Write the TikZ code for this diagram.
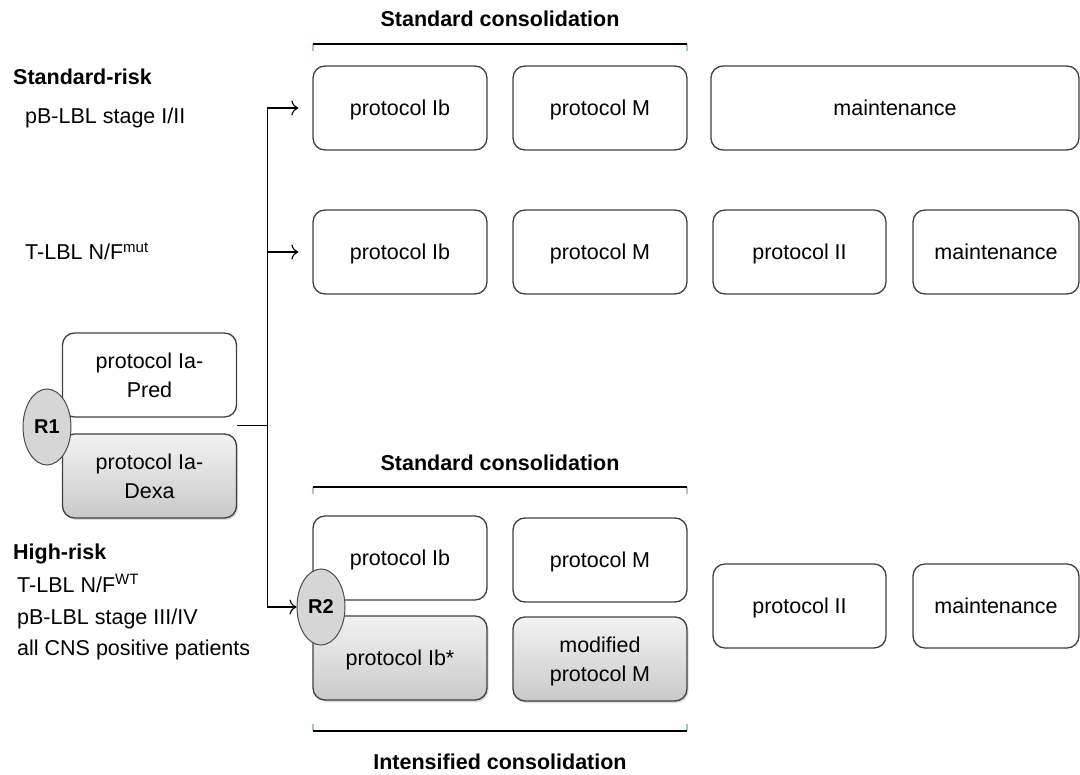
\documentclass[tikz,border=0pt]{standalone}
\usepackage{fontspec}
\setmainfont{Liberation Sans}
\usetikzlibrary{arrows.meta,shapes.geometric,calc,shadows}
\begin{document}
\begin{tikzpicture}[x=1pt,y=-1pt,
  txt/.style={font=\fontsize{21.5}{29}\selectfont, inner sep=0pt},
  btxt/.style={font=\fontsize{21.5}{29}\selectfont\bfseries, inner sep=0pt},
  box/.style={draw=black!75, line width=1.3pt, rounded corners=12pt, fill=white,
    minimum width=174pt, minimum height=84pt, align=center, inner sep=2pt,
    text depth=0pt, font=\fontsize{21.5}{29}\selectfont},
  gbox/.style={box, top color=gray!10, bottom color=gray!42,
    drop shadow={opacity=0.3, shadow xshift=1.5pt, shadow yshift=-2pt}},
  rnode/.style={ellipse, draw=black!70, line width=1pt, fill=gray!32,
    minimum width=48pt, minimum height=76pt, inner sep=0pt,
    font=\fontsize{20}{24}\selectfont\bfseries},
  conn/.style={line width=1.1pt, black},
  arr/.style={conn, -{To[length=7pt,width=15pt,line width=1.1pt]}},
  bracket/.style={line width=2.6pt, black},
  tick/.style={line width=1.5pt, cyan!40!gray!60}
]
\useasboundingbox (0,0) rectangle (1080,775);

% titles and brackets
\node[btxt] (t1) at (500,19) {Standard consolidation};
\draw[tick] (313,44) -- (313,51) (687,44) -- (687,51);
\draw[bracket] (313,44) -- (687,44);

\node[btxt] (t2) at (500,463) {Standard consolidation};
\draw[tick] (313,487) -- (313,494) (687,487) -- (687,494);
\draw[bracket] (313,487) -- (687,487);

\draw[tick] (313,724) -- (313,731) (687,724) -- (687,731);
\draw[bracket] (313,731) -- (687,731);
\node[btxt] (t3) at (500,762) {Intensified consolidation};

% left labels
\node[btxt, anchor=base west] (sr) at (13,85) {Standard-risk};
\node[txt, anchor=base west] (sr1) at (25,124) {pB-LBL stage I/II};
\node[txt, anchor=base west] (sr2) at (25,260) {T-LBL N/F\textsuperscript{\fontsize{15}{15}\selectfont mut}};
\node[btxt, anchor=base west] (hr) at (13,560) {High-risk};
\node[txt, anchor=base west] (hr1) at (17,592) {T-LBL N/F\textsuperscript{\fontsize{15}{15}\selectfont WT}};
\node[txt, anchor=base west] (hr2) at (17,624) {pB-LBL stage III/IV};
\node[txt, anchor=base west] (hr3) at (17,655) {all CNS positive patients};

% row 1
\node[box] (a1) at (400,108) {protocol Ib};
\node[box] (a2) at (600,108) {protocol M};
\node[box, minimum width=368pt] (a3) at (895,108) {maintenance};

% row 2
\node[box] (b1) at (400,252) {protocol Ib};
\node[box] (b2) at (600,252) {protocol M};
\node[box, minimum width=173pt] (b3) at (799.5,252) {protocol II};
\node[box, minimum width=166pt] (b4) at (996,252) {maintenance};

% induction
\node[box] (pred) at (149.5,375) {protocol Ia-\\Pred};
\node[gbox] (dexa) at (149.5,476) {protocol Ia-\\Dexa};
\node[rnode] (r1) at (47,427) {R1};

% high risk
\node[box] (c1) at (400,558) {protocol Ib};
\node[box] (c2) at (600,560) {protocol M};
\node[gbox] (d1) at (400,658) {protocol Ib*};
\node[gbox] (d2) at (600,659) {modified\\protocol M};
\node[rnode] (r2) at (321,607) {R2};
\node[box, minimum width=173pt] (c3) at (799.5,606) {protocol II};
\node[box, minimum width=166pt] (c4) at (996,606) {maintenance};

% connectors
\coordinate (grp) at ($(pred.south east)!0.5!(dexa.north east)$);
\coordinate (j) at ($(grp)+(30,0)$);
\draw[conn] (grp) -- (j);
\draw[arr] (j) |- ([xshift=-14pt]a1.west);
\draw[arr] (j) |- ([xshift=-14pt]b1.west);
\draw[arr] (j) |- (r2.west);
\end{tikzpicture}
\end{document}
